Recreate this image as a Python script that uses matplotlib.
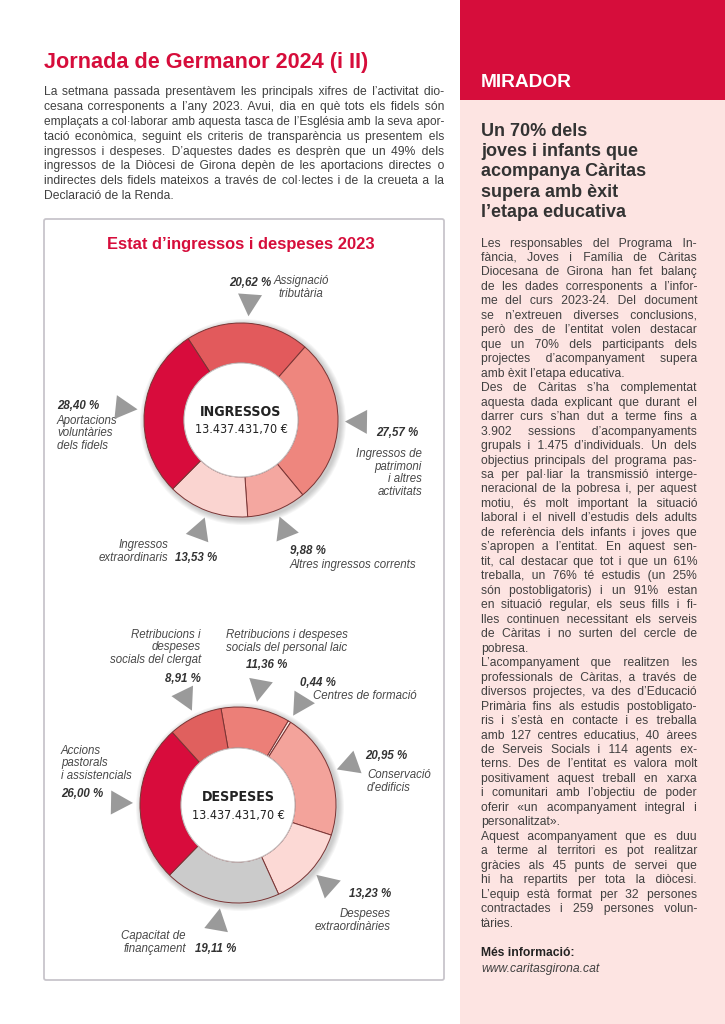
import matplotlib
matplotlib.use("Agg")
import matplotlib.pyplot as plt
from matplotlib import font_manager
from matplotlib.font_manager import FontProperties
from matplotlib.patches import Rectangle, Polygon, Circle, FancyBboxPatch
import numpy as np

W, H = 725, 1024

# ---- data ----
ing_names = ['Assignació\ntributària', 'Ingressos de\npatrimoni\ni altres\nactivitats',
             'Altres ingressos corrents', 'Ingressos\nextraordinaris',
             'Aportacions\nvoluntàries\ndels fidels']
ing_vals = [20.62, 27.57, 9.88, 13.53, 28.40]
ing_total = '13.437.431,70 €'

des_names = ['Retribucions i despeses\nsocials del personal laic', 'Centres de formació',
             'Conservació\nd’edificis', 'Despeses\nextraordinàries',
             'Capacitat de\nfinançament', 'Accions\npastorals\ni assistencials',
             'Retribucions i\ndespeses\nsocials del clergat']
des_vals = [11.36, 0.44, 20.95, 13.23, 19.11, 26.00, 8.91]
des_total = '13.437.431,70 €'

title = 'Jornada de Germanor 2024 (i II)'
intro = [
    'La setmana passada presentàvem les principals xifres de l’activitat dio-',
    'cesana corresponents a l’any 2023. Avui, dia en què tots els fidels són',
    'emplaçats a col·laborar amb aquesta tasca de l’Església amb la seva apor-',
    'tació econòmica, seguint els criteris de transparència us presentem els',
    'ingressos i despeses. D’aquestes dades es desprèn que un 49% dels',
    'ingressos de la Diòcesi de Girona depèn de les aportacions directes o',
    'indirectes dels fidels mateixos a través de col·lectes i de la creueta a la',
    'Declaració de la Renda.',
]
chart_title = 'Estat d’ingressos i despeses 2023'

side_head = 'MIRADOR'
side_title = ['Un 70% dels', 'joves i infants que', 'acompanya Càritas',
              'supera amb èxit', 'l’etapa educativa']
side_text = [
    'Les responsables del Programa In-',
    'fància, Joves i Família de Càritas',
    'Diocesana de Girona han fet balanç',
    'de les dades corresponents a l’infor-',
    'me del curs 2023-24. Del document',
    'se n’extreuen diverses conclusions,',
    'però des de l’entitat volen destacar',
    'que un 70% dels participants dels',
    'projectes d’acompanyament supera',
    'amb èxit l’etapa educativa.',
    'Des de Càritas s’ha complementat',
    'aquesta dada explicant que durant el',
    'darrer curs s’han dut a terme fins a',
    '3.902 sessions d’acompanyaments',
    'grupals i 1.475 d’individuals. Un dels',
    'objectius principals del programa pas-',
    'sa per pal·liar la transmissió interge-',
    'neracional de la pobresa i, per aquest',
    'motiu, és molt important la situació',
    'laboral i el nivell d’estudis dels adults',
    'de referència dels infants i joves que',
    's’apropen a l’entitat. En aquest sen-',
    'tit, cal destacar que tot i que un 61%',
    'treballa, un 76% té estudis (un 25%',
    'són postobligatoris) i un 91% estan',
    'en situació regular, els seus fills i fi-',
    'lles continuen necessitant els serveis',
    'de Càritas i no surten del cercle de',
    'pobresa.',
    'L’acompanyament que realitzen les',
    'professionals de Càritas, a través de',
    'diversos projectes, va des d’Educació',
    'Primària fins als estudis postobligato-',
    'ris i s’està en contacte i es treballa',
    'amb 127 centres educatius, 40 àrees',
    'de Serveis Socials i 114 agents ex-',
    'terns. Des de l’entitat es valora molt',
    'positivament aquest treball en xarxa',
    'i comunitari amb l’objectiu de poder',
    'oferir «un acompanyament integral i',
    'personalitzat».',
    'Aquest acompanyament que es duu',
    'a terme al territori es pot realitzar',
    'gràcies als 45 punts de servei que',
    'hi ha repartits per tota la diòcesi.',
    'L’equip està format per 32 persones',
    'contractades i 259 persones volun-',
    'tàries.',
]
more_head = 'Més informació:'
more_url = 'www.caritasgirona.cat'

# ---- style ----
RED = '#d60d3b'
PINK = '#fde4e2'
TXT = '#404040'
TRI = '#9a9a9a'
ing_cols = ['#e25a5c', '#ee867e', '#f4a7a0', '#fad4d0', '#d80c3c']
des_cols = ['#ec7f78', '#fbeae6', '#f3a39b', '#fcd9d5', '#cbcbcb', '#d80c3c', '#e0605e']
FONT = 'Liberation Sans'
FAM = [FONT, 'DejaVu Sans']
HAIR = '\u200a'

# condensed faces for the donut centres, if installed
cond_b = cond_r = None
for f in font_manager.fontManager.ttflist:
    nm = f.name.lower()
    cond = f.stretch in ('condensed', 'semi-condensed', 'extra-condensed') or 'narrow' in nm or 'condensed' in nm
    if not cond or 'mono' in nm or 'serif' in nm or 'cjk' in nm or f.style != 'normal':
        continue
    if f.weight in ('bold', 700) and cond_b is None:
        cond_b = f.fname
    if f.weight in ('normal', 'regular', 400, 'book') and cond_r is None:
        cond_r = f.fname
if cond_b:
    NB = FontProperties(fname=cond_b, size=10.2)
else:
    NB = FontProperties(family=FONT, weight='bold', size=9.2)
if cond_r:
    NR = FontProperties(fname=cond_r, size=9.0)
else:
    NR = FontProperties(family=FONT, size=8.0)

fig = plt.figure(figsize=(W / 100, H / 100), dpi=100)
ax = fig.add_axes([0, 0, 1, 1])
ren = fig.canvas.get_renderer()


def Y(y):
    return H - y


def width(s, size):
    t = ax.text(0, 0, s, size=size, family=FAM)
    w = t.get_window_extent(ren).width
    t.remove()
    return w


def lines_block(lines, x0, x1, base, step, size, ends=()):
    # justified lines (extra room filled with hair spaces), paragraph ends left aligned
    for i, line in enumerate(lines):
        y = Y(base + i * step)
        words = line.split(' ')
        s = line
        sz = size
        w = width(line, sz)
        if w > x1 - x0:
            sz = sz * (x1 - x0) / w - 0.05
        if i not in ends and i != len(lines) - 1 and len(words) > 1:
            hair = (width('x' + HAIR * 10 + 'x', sz) - width('xx', sz)) / 10
            extra = x1 - x0 - width(line, sz)
            if hair > 0.05 and extra > 0:
                k = int(round(extra / hair))
                n = len(words) - 1
                s = words[0]
                for j in range(n):
                    kk = (k * (j + 1)) // n - (k * j) // n
                    s += ' ' + HAIR * kk + words[j + 1]
        ax.text(x0, y, s, size=sz, family=FAM, color=TXT, va='baseline')


def pct(v):
    return ('%.2f' % v).replace('.', ',') + ' %'


def donut(cx, cy, r, rin, vals, cols, start, gap, label, total):
    # soft shadow
    for k in range(6, 0, -1):
        ax.add_patch(Circle((cx + 2, Y(cy) - 2), r + k, color='#000000', alpha=0.035, lw=0, zorder=1))
    ax.pie(vals, colors=cols, startangle=start, counterclock=False, radius=r,
           center=(cx, Y(cy)), frame=True,
           wedgeprops=dict(width=r - rin, edgecolor='#7a3434', linewidth=0.7),
           normalize=True)
    ax.add_patch(Circle((cx, Y(cy)), rin, fc='white', ec='#c9c0c0', lw=0.8, zorder=3))
    ax.text(cx, Y(cy - 8), label, ha='center', va='center', fontproperties=NB,
            color='#222222', zorder=4)
    ax.text(cx, Y(cy + 10), total, ha='center', va='center', fontproperties=NR,
            color='#222222', zorder=4)
    # triangles pointing into each slice
    ang = start
    for v in vals:
        mid = np.radians(ang - v * 3.6 / 2)
        ang -= v * 3.6
        d = np.array([np.cos(mid), np.sin(mid)])
        n = np.array([-d[1], d[0]])
        c = np.array([cx, Y(cy)])
        tip = c + d * (r + gap)
        base = c + d * (r + gap + 22)
        ax.add_patch(Polygon([tip, base + n * 12, base - n * 12], closed=True,
                             fc=TRI, ec='none', zorder=4))


def lab(x, y, s, ha='left', bold=False):
    ax.text(x, Y(y), s, ha=ha, va='baseline', size=8.3, family=FONT, style='italic',
            weight='bold' if bold else 'normal', color='#333333' if bold else '#484848',
            linespacing=1.08, multialignment=ha)


# ---- right column ----
ax.add_patch(Rectangle((460, 0), W - 460, H, fc=PINK, ec='none', zorder=0))
ax.add_patch(Rectangle((460, Y(100)), W - 460, 100, fc=RED, ec='none', zorder=0))
ax.text(481, Y(87), side_head, size=13.8, weight='bold', family=FONT, color='white', va='baseline')
for i, s in enumerate(side_title):
    ax.text(481, Y(136 + i * 20.2), s, size=13, weight='bold', family=FONT,
            color='#333333', va='baseline')
lines_block(side_text, 481, 697, 246.5, 14.47, 8.7, ends=(9, 28, 40))
ax.text(481, Y(956), more_head, size=8.7, weight='bold', family=FONT, color='#222222', va='baseline')
ax.text(481, Y(972), more_url, size=8.7, style='italic', family=FONT, color=TXT, va='baseline')

# ---- left column ----
ax.text(44, Y(68), title, size=15.6, weight='bold', family=FONT, color=RED, va='baseline')
lines_block(intro, 44, 444, 95.5, 14.76, 8.7)

ax.add_patch(FancyBboxPatch((44, Y(980)), 400, 761, boxstyle='round,pad=0,rounding_size=2',
                            fc='white', ec='#c8c5cb', lw=1.3, zorder=0.5))
ax.text(241, Y(249), chart_title, ha='center', va='baseline', size=11.9, weight='bold',
        family=FONT, color=RED)

donut(241, 420, 97, 57, ing_vals, ing_cols, 123, 7, 'INGRESSOS', ing_total)
donut(238, 805, 98, 57, des_vals, des_cols, 100, 7, 'DESPESES', des_total)

# labels ingressos
lab(229, 286, pct(ing_vals[0]), bold=True)
lab(301, 297, ing_names[0], ha='center')
lab(376, 436, pct(ing_vals[1]), bold=True)
lab(422, 495, ing_names[1], ha='right')
lab(290, 554, pct(ing_vals[2]), bold=True)
lab(290, 568, ing_names[2])
lab(168, 561, ing_names[3], ha='right')
lab(175, 561, pct(ing_vals[3]), bold=True)
lab(57, 409, pct(ing_vals[4]), bold=True)
lab(57, 449, ing_names[4])

# labels despeses
lab(287, 651, des_names[0], ha='center')
lab(267, 668, pct(des_vals[0]), ha='center', bold=True)
lab(300, 686, pct(des_vals[1]), bold=True)
lab(313, 699, des_names[1])
lab(365, 759, pct(des_vals[2]), bold=True)
lab(367, 791, des_names[2])
lab(391, 897, pct(des_vals[3]), ha='right', bold=True)
lab(391, 930, des_names[3], ha='right')
lab(186, 952, des_names[4], ha='right')
lab(195, 952, pct(des_vals[4]), bold=True)
lab(61, 779, des_names[5])
lab(61, 797, pct(des_vals[5]), bold=True)
lab(201, 663, des_names[6], ha='right')
lab(201, 682, pct(des_vals[6]), ha='right', bold=True)

ax.set_xlim(0, W)
ax.set_ylim(0, H)
ax.set_aspect('auto')
ax.axis('off')
fig.savefig('out.png', dpi=100)
